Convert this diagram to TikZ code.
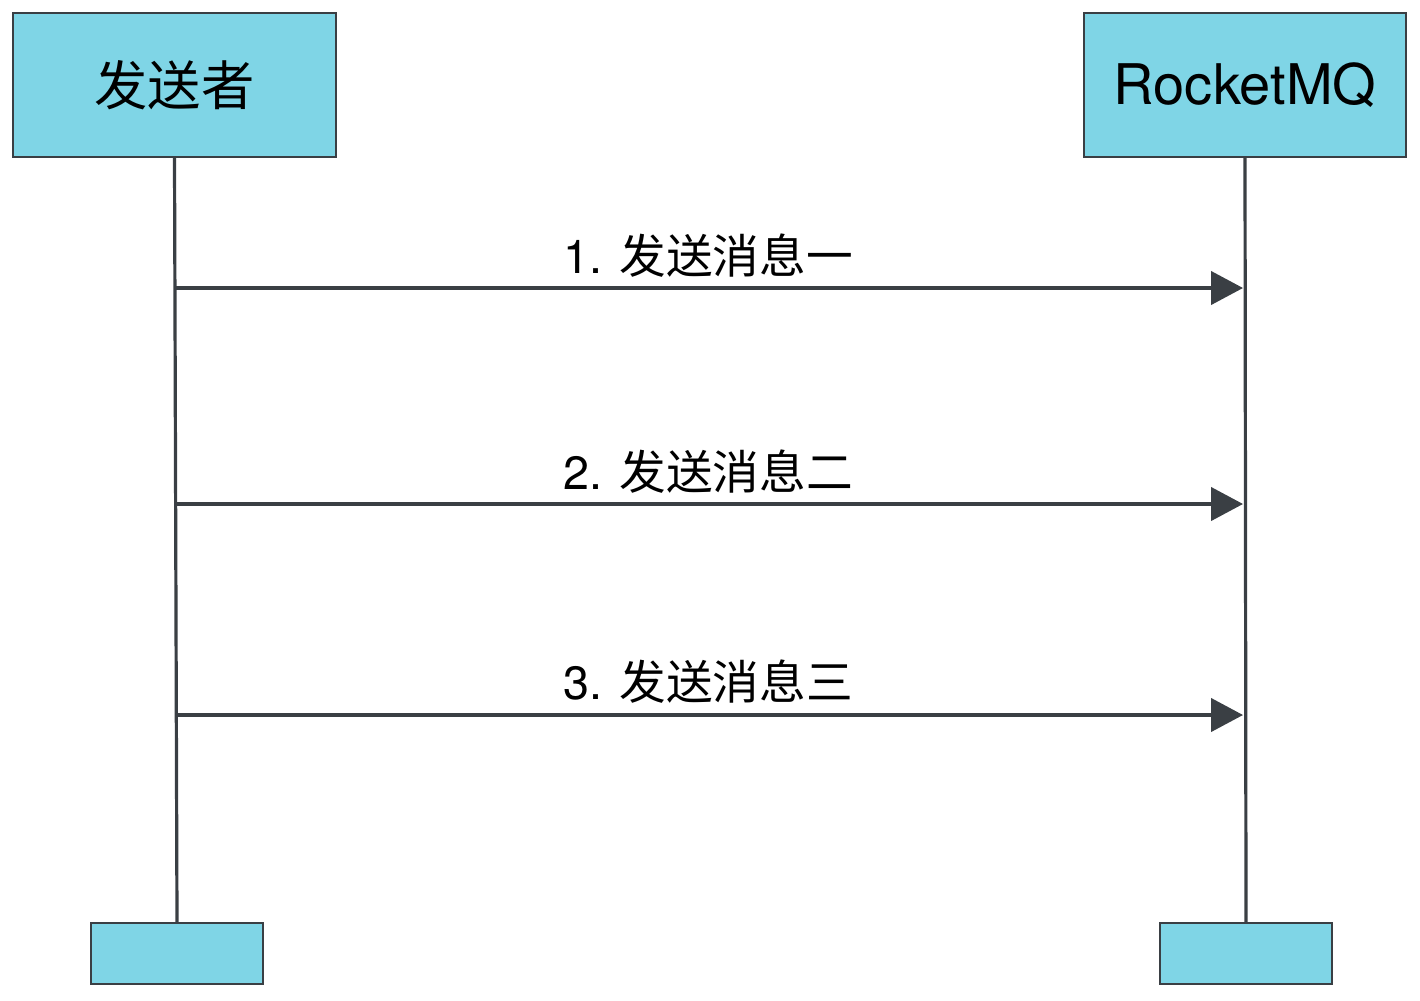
\documentclass[tikz,border=0pt]{standalone}
\usepackage{fontspec}
\setmainfont{TeX Gyre Heros}
\newfontfamily\cjk{Noto Sans CJK SC}
\usetikzlibrary{arrows.meta}
\definecolor{boxfill}{HTML}{7FD5E6}
\definecolor{ink}{HTML}{3A3F44}
\tikzset{
  actor/.style={draw=ink, fill=boxfill, line width=1.5pt, minimum width=242pt, minimum height=108pt, inner sep=0pt},
  foot/.style={draw=ink, fill=boxfill, line width=1.5pt, minimum width=129pt, minimum height=45.75pt, inner sep=0pt},
  life/.style={draw=ink, line width=2.4pt},
  msg/.style={draw=ink, line width=2.4pt, -{Triangle[length=24pt,width=25pt]}},
  lbl/.style={anchor=base, inner sep=0pt, text=black, font=\fontsize{35}{35}\selectfont}
}
\begin{document}
\begin{tikzpicture}[x=0.75pt,y=-0.75pt]
\useasboundingbox (0,0) rectangle (1420,1000);
\node[actor] (s) at (174.5,85) {\cjk\fontsize{40}{40}\selectfont 发送者};
\node[actor] (r) at (1245,85) {\fontsize{42}{42}\selectfont RocketMQ};
\node[foot] (sb) at (177,953.5) {};
\node[foot] (rb) at (1246,953.5) {};
\draw[life] (s.south) -- (sb.north);
\draw[life] (r.south) -- (rb.north);
\coordinate (m1s) at (175,288); \coordinate (m1r) at (1243,288);
\coordinate (m2s) at (175,504); \coordinate (m2r) at (1243,504);
\coordinate (m3s) at (175,715); \coordinate (m3r) at (1243,715);
\draw[msg] (m1s) -- (m1r);
\draw[msg] (m2s) -- (m2r);
\draw[msg] (m3s) -- (m3r);
\node[lbl] (l1) at (708,273) {1. {\cjk 发送消息一}};
\node[lbl] (l2) at (708,489) {2. {\cjk 发送消息二}};
\node[lbl] (l3) at (708,699) {3. {\cjk 发送消息三}};
\end{tikzpicture}
\end{document}
